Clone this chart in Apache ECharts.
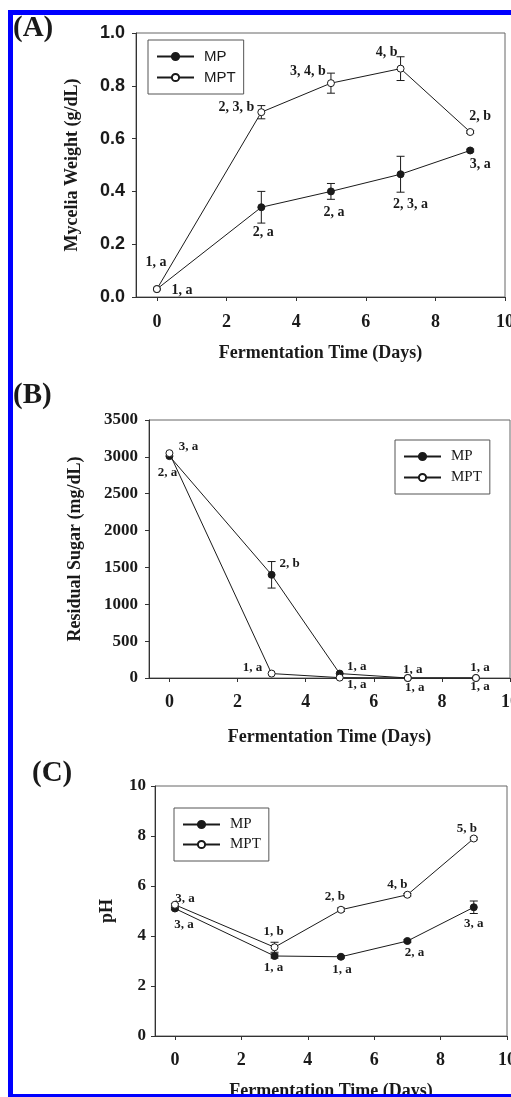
<!DOCTYPE html>
<html>
<head>
<meta charset="utf-8">
<script src="https://cdn.jsdelivr.net/npm/echarts@6/dist/echarts.min.js"></script>
<style>
  html, body { margin: 0; padding: 0; background: #fff; }
  #main { width: 511px; height: 1097px; }
</style>
</head>
<body>
<div id="main"></div>
<script>
'use strict'
var days = [0, 3, 5, 7, 9]
var xTicks = [0, 2, 4, 6, 8, 10]

// (A) mycelia weight, g/dL
var weightMP = [0.03, 0.34, 0.4, 0.465, 0.555]
var weightMPErr = [0, 0.06, 0.03, 0.068, 0.005]
var weightMPT = [0.03, 0.7, 0.81, 0.865, 0.625]
var weightMPTErr = [0, 0.025, 0.038, 0.045, 0.005]
var weightMPText = ['1, a', '2, a', '2, a', '2, 3, a', '3, a']
var weightMPTText = ['1, a', '2, 3, b', '3, 4, b', '4, b', '2, b']

// (B) residual sugar, mg/dL
var sugarMP = [3010, 1400, 60, 0, 0]
var sugarMPErr = [0, 180, 0, 0, 0]
var sugarMPT = [3050, 60, 5, 0, 0]
var sugarMPTErr = [0, 0, 0, 0, 0]
var sugarMPText = ['2, a', '2, b', '1, a', '1, a', '1, a']
var sugarMPTText = ['3, a', '1, a', '1, a', '1, a', '1, a']

// (C) pH
var phMP = [5.1, 3.2, 3.17, 3.8, 5.15]
var phMPErr = [0.05, 0.08, 0.05, 0.05, 0.25]
var phMPT = [5.25, 3.55, 5.05, 5.65, 7.9]
var phMPTErr = [0.05, 0.2, 0.07, 0.05, 0.05]
var phMPText = ['3, a', '1, a', '1, a', '2, a', '3, a']
var phMPTText = ['3, a', '1, b', '2, b', '4, b', '5, b']

// label placement (px from the point)
var offA_MP = [[25, 1], [2, 25], [3, 21], [10, 30], [10, 14]]
var offA_MPT = [[-1, -27], [-25, -5], [-23, -12], [-14, -16], [10, -16]]
var offB_MP = [[-2, 17], [18, -11], [17, -7], [5, -8], [4, -10]]
var offB_MPT = [[19, -7], [-19, -6], [17, 7], [7, 10], [4, 9]]
var offC_MP = [[9, 16], [-1, 12], [1, 13], [7, 12], [0, 16]]
var offC_MPT = [[10, -6], [-1, -16], [-6, -13], [-10, -10], [-7, -10]]

var SERIF = '"Liberation Serif", "Times New Roman", serif'
var SANS = '"Liberation Sans", Arial, sans-serif'
var INK = '#1a1a1a'

function points(ys, texts, offs, size) {
  return days.map(function(d, i) {
    return {
      value: [d, ys[i]],
      label: {
        show: true,
        formatter: texts[i],
        position: 'inside',
        offset: offs[i],
        fontFamily: SERIF,
        fontWeight: 'bold',
        fontSize: size,
        color: INK
      }
    }
  })
}

function lineSeries(name, idx, ys, texts, offs, open, size) {
  return {
    name: name,
    type: 'line',
    xAxisIndex: idx,
    yAxisIndex: idx,
    data: points(ys, texts, offs, size),
    symbol: 'circle',
    symbolSize: 7,
    showSymbol: true,
    z: open ? 4 : 3,
    lineStyle: { color: INK, width: 1 },
    itemStyle: {
      color: open ? '#fff' : INK,
      borderColor: INK,
      borderWidth: 1
    },
    emphasis: { disabled: true }
  }
}

function errSeries(idx, ys, errs) {
  return {
    type: 'custom',
    xAxisIndex: idx,
    yAxisIndex: idx,
    z: 2,
    silent: true,
    data: days.map(function(d, i) { return [d, ys[i], errs[i]] }),
    encode: { x: 0, y: 1 },
    renderItem: function(params, api) {
      var x = api.value(0), y = api.value(1), e = api.value(2)
      if (!e) return
      var top = api.coord([x, y + e])
      var bot = api.coord([x, y - e])
      var st = { stroke: INK, lineWidth: 1 }
      return {
        type: 'group',
        children: [
          { type: 'line', shape: { x1: top[0], y1: top[1], x2: bot[0], y2: bot[1] }, style: st },
          { type: 'line', shape: { x1: top[0] - 4, y1: top[1], x2: top[0] + 4, y2: top[1] }, style: st },
          { type: 'line', shape: { x1: bot[0] - 4, y1: bot[1], x2: bot[0] + 4, y2: bot[1] }, style: st }
        ]
      }
    }
  }
}

function xAxis(idx, nameGap, margin) {
  return {
    gridIndex: idx,
    type: 'value',
    min: -0.6,
    max: 10,
    name: 'Fermentation Time (Days)',
    nameLocation: 'middle',
    nameGap: nameGap,
    nameTextStyle: { fontFamily: SERIF, fontWeight: 'bold', fontSize: 18, color: INK },
    axisLine: { onZero: false, lineStyle: { color: '#333', width: 1 } },
    axisTick: { show: true, length: 4, customValues: xTicks, lineStyle: { color: '#333' } },
    axisLabel: {
      customValues: xTicks,
      margin: margin,
      fontFamily: SERIF,
      fontWeight: 'bold',
      fontSize: 18,
      color: INK
    },
    splitLine: { show: false }
  }
}

function yAxis(idx, max, interval, name, nameGap, margin, font, size, fmt) {
  return {
    gridIndex: idx,
    type: 'value',
    min: 0,
    max: max,
    interval: interval,
    name: name,
    nameLocation: 'middle',
    nameGap: nameGap,
    nameTextStyle: { fontFamily: SERIF, fontWeight: 'bold', fontSize: 18, color: INK },
    axisLine: { show: true, onZero: false, lineStyle: { color: '#333', width: 1 } },
    axisTick: { show: true, length: 4, lineStyle: { color: '#333' } },
    axisLabel: {
      margin: margin,
      fontFamily: font,
      fontWeight: 'bold',
      fontSize: size,
      color: INK,
      formatter: fmt || function(v) { return String(v) }
    },
    splitLine: { show: false }
  }
}

function legend(left, top, font, gap) {
  return {
    data: ['MP', 'MPT'],
    orient: 'vertical',
    left: left,
    top: top,
    padding: [9, 8, 9, 8],
    itemWidth: 37,
    itemHeight: 9,
    itemGap: gap,
    borderColor: '#555',
    borderWidth: 1,
    selectedMode: false,
    textStyle: { fontFamily: font, fontSize: 15, color: INK, padding: [0, 0, 0, 5] }
  }
}

function grid(left, top, width, height) {
  return {
    left: left, top: top, width: width, height: height,
    outerBoundsMode: 'none',
    containLabel: false,
    show: true, borderColor: '#666', borderWidth: 1
  }
}

var chart = echarts.init(document.getElementById('main'))
var option = {
  animation: false,
  backgroundColor: '#fff',
  grid: [
    grid(136, 33, 369, 264),
    grid(149, 420, 361, 258),
    grid(155, 786, 352, 250)
  ],
  legend: [
    legend(148, 40, SANS, 6),
    legend(395, 440, SERIF, 6),
    legend(174, 808, SERIF, 5)
  ],
  xAxis: [xAxis(0, 47, 16), xAxis(1, 50, 15), xAxis(2, 46, 15)],
  yAxis: [
    yAxis(0, 1, 0.2, 'Mycelia Weight (g/dL)', 55, 11, SANS, 18, function(v) { return v.toFixed(1) }),
    yAxis(1, 3500, 500, 'Residual Sugar (mg/dL)', 65, 11, SERIF, 17),
    yAxis(2, 10, 2, 'pH', 39, 9, SERIF, 17)
  ],
  series: [
    errSeries(0, weightMP, weightMPErr),
    errSeries(0, weightMPT, weightMPTErr),
    lineSeries('MP', 0, weightMP, weightMPText, offA_MP, false, 14),
    lineSeries('MPT', 0, weightMPT, weightMPTText, offA_MPT, true, 14),
    errSeries(1, sugarMP, sugarMPErr),
    errSeries(1, sugarMPT, sugarMPTErr),
    lineSeries('MP', 1, sugarMP, sugarMPText, offB_MP, false, 13),
    lineSeries('MPT', 1, sugarMPT, sugarMPTText, offB_MPT, true, 13),
    errSeries(2, phMP, phMPErr),
    errSeries(2, phMPT, phMPTErr),
    lineSeries('MP', 2, phMP, phMPText, offC_MP, false, 13),
    lineSeries('MPT', 2, phMPT, phMPTText, offC_MPT, true, 13)
  ],
  graphic: [
    { type: 'rect', shape: { x: 8, y: 10, width: 503, height: 5 }, style: { fill: '#0000ff' }, silent: true, z: 100 },
    { type: 'rect', shape: { x: 8, y: 10, width: 5, height: 1087 }, style: { fill: '#0000ff' }, silent: true, z: 100 },
    { type: 'rect', shape: { x: 8, y: 1094, width: 503, height: 3 }, style: { fill: '#0000ff' }, silent: true, z: 100 },
    { type: 'text', left: 13, top: 14, style: { text: '(A)', font: 'bold 29px ' + SERIF, fill: INK } },
    { type: 'text', left: 13, top: 381, style: { text: '(B)', font: 'bold 29px ' + SERIF, fill: INK } },
    { type: 'text', left: 32, top: 759, style: { text: '(C)', font: 'bold 29px ' + SERIF, fill: INK } }
  ]
}
chart.setOption(option)
</script>
</body>
</html>
